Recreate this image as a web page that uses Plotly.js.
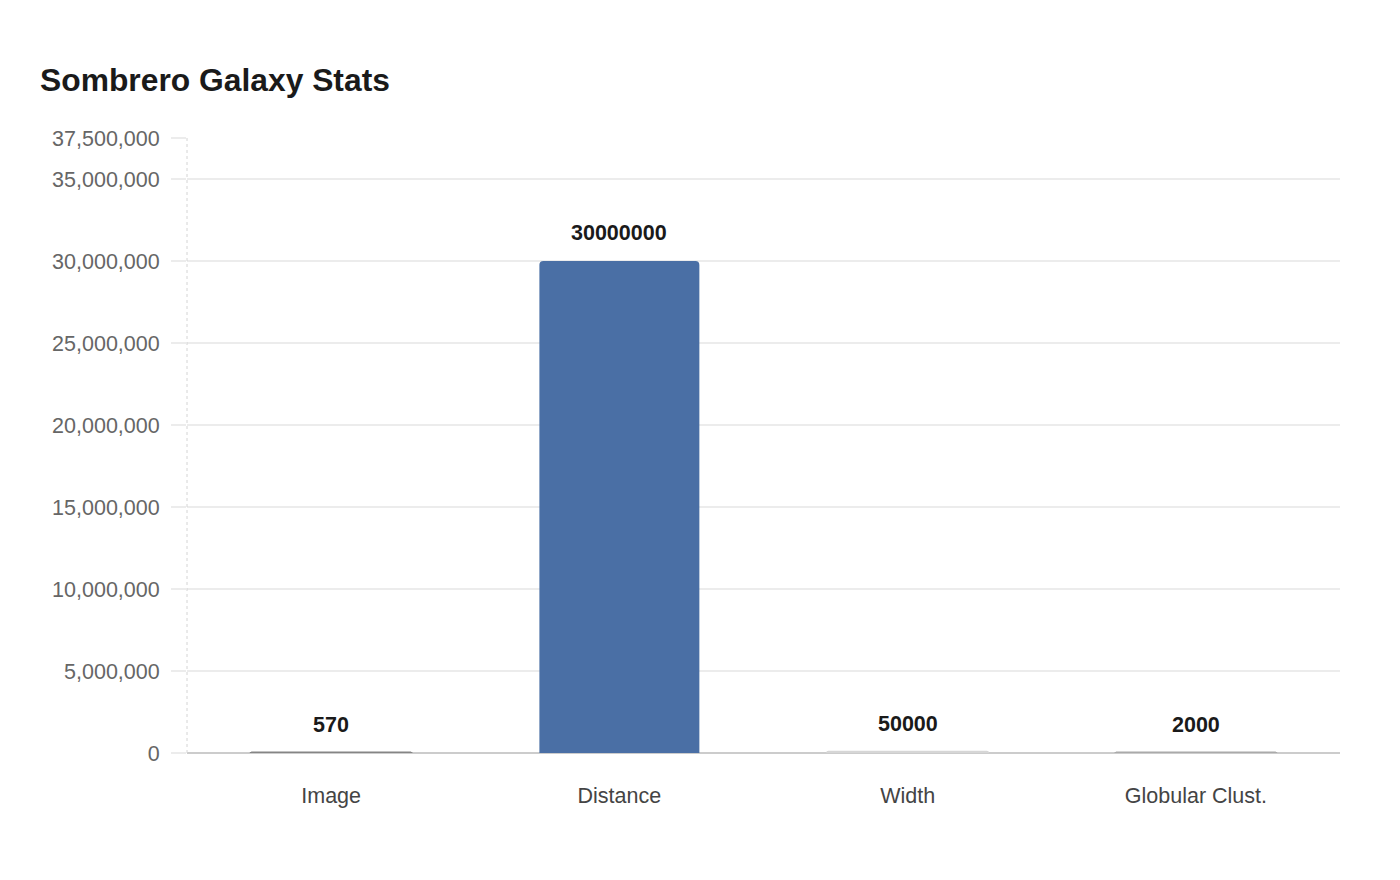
<!DOCTYPE html>
<html>
<head>
<meta charset="utf-8">
<script src="https://cdn.plot.ly/plotly-3.0.1.min.js"></script>
<style>
  html, body { margin: 0; padding: 0; background: #ffffff; }
  #plot { width: 1400px; height: 880px; }
</style>
</head>
<body>
<div id="plot"></div>
<script>
const categories = ["Image", "Distance", "Width", "Globular Clust."];
const values = [570, 30000000, 50000, 2000];
const barColors = ["#858585", "#4a6fa5", "#d6d6d6", "#aaaaaa"];
const tickValues = [0, 5000000, 10000000, 15000000, 20000000, 25000000, 30000000, 35000000, 37500000];

const FONT = '"Liberation Sans", Arial, "Helvetica Neue", sans-serif';

const trace = {
  type: "bar",
  x: categories,
  y: values,
  marker: {
    color: barColors,
    cornerradius: 4,
    line: { color: barColors, width: [3, 0, 3, 3] },
  },
  hoverinfo: "x+y",
};

// value labels sit a little above each bar
const labels = categories.map((c, i) => ({
  x: c,
  y: values[i],
  text: "<b>" + values[i] + "</b>",
  showarrow: false,
  yanchor: "bottom",
  yshift: 14,
  font: { family: FONT, size: 21.5, color: "#1a1a1a" },
}));

const layout = {
  width: 1400,
  height: 880,
  paper_bgcolor: "#ffffff",
  plot_bgcolor: "#ffffff",
  font: { family: FONT, color: "#444444" },
  title: {
    text: "<b>Sombrero Galaxy Stats</b>",
    xref: "container",
    yref: "container",
    x: 40 / 1400,
    y: 1 - 80 / 880,
    xanchor: "left",
    yanchor: "middle",
    font: { family: FONT, size: 31.8, color: "#1a1a1a" },
  },
  margin: { l: 187, r: 60, t: 138, b: 127 },
  bargap: 0.445,
  showlegend: false,
  xaxis: {
    type: "category",
    showgrid: false,
    showline: false,
    zeroline: false,
    ticks: "",
    tickfont: { family: FONT, size: 21.5, color: "#444444" },
    ticklabelstandoff: 27,
  },
  yaxis: {
    range: [0, 37500000],
    tickmode: "array",
    tickvals: tickValues,
    tickformat: ",d",
    showgrid: true,
    gridcolor: "#ececec",
    gridwidth: 1.5,
    zeroline: true,
    zerolinecolor: "#cccccc",
    zerolinewidth: 2,
    showline: false,
    ticks: "outside",
    ticklen: 15,
    tickcolor: "#ececec",
    tickwidth: 1.5,
    ticklabelstandoff: 7,
    tickfont: { family: FONT, size: 21.5, color: "#666666" },
  },
  shapes: [
    {
      type: "line",
      xref: "paper",
      yref: "paper",
      x0: 0, x1: 0, y0: 0, y1: 1,
      line: { color: "#d4d4d4", width: 1, dash: "dot" },
    },
  ],
  annotations: labels,
};

Plotly.newPlot("plot", [trace], layout, { displayModeBar: false, staticPlot: true });
</script>
</body>
</html>
